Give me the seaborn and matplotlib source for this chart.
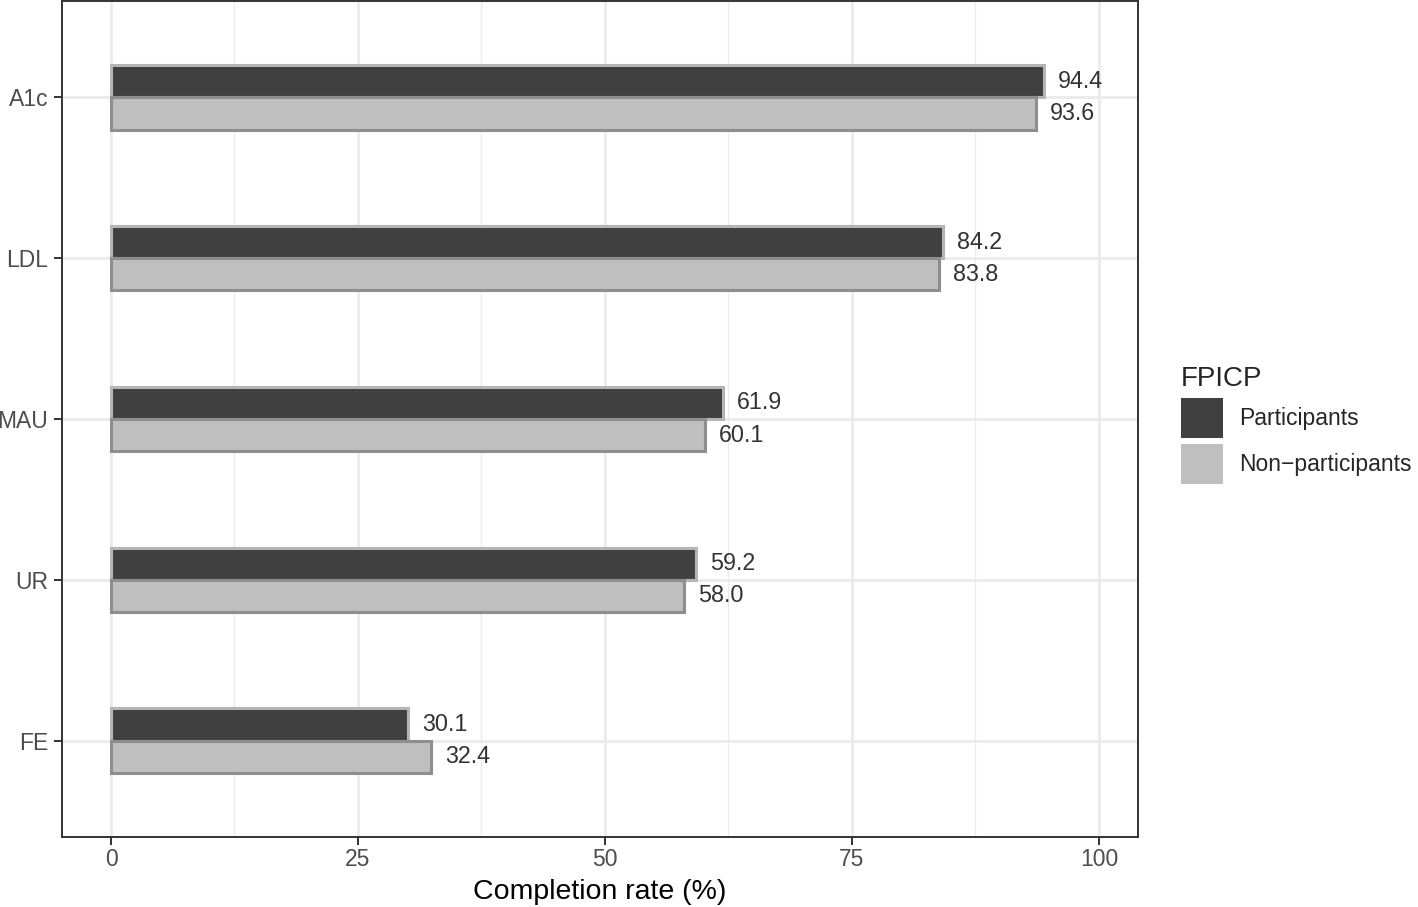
import matplotlib
matplotlib.use("Agg")
import matplotlib.pyplot as plt
from matplotlib.patches import Patch
import pandas as pd
import seaborn as sns

tests = ['A1c', 'LDL', 'MAU', 'UR', 'FE']
participants = [94.4, 84.2, 61.9, 59.2, 30.1]
non_participants = [93.6, 83.8, 60.1, 58.0, 32.4]
groups = ['Participants', 'Non\u2212participants']

fills = ['#404040', '#bfbfbf']
edges = ['#b5b5b5', '#8e8e8e']

df = pd.DataFrame({
    'Test': tests * 2,
    'Rate': participants + non_participants,
    'FPICP': [groups[0]] * len(tests) + [groups[1]] * len(tests),
})

sns.set_style('whitegrid')
plt.rcParams['font.family'] = ['Liberation Sans', 'DejaVu Sans']

fig = plt.figure(figsize=(14.18, 9.07), dpi=100)
ax = fig.add_axes([62 / 1418, 1 - 837 / 907, (1138 - 62) / 1418, (837 - 1) / 907])

sns.barplot(data=df, x='Rate', y='Test', hue='FPICP', order=tests, hue_order=groups,
            palette=fills, width=0.4, orient='h', legend=False, ax=ax, saturation=1)

# bar outlines and value labels
for cont, ec in zip(ax.containers, edges):
    for p in cont:
        p.set_edgecolor(ec)
        p.set_linewidth(2.2)
    ax.bar_label(cont, fmt='%.1f', padding=10, fontsize=16.8, color='#333333')

ax.set_xlim(-4.96, 103.95)
ax.set_ylim(4.6, -0.6)
ax.set_xticks([0, 25, 50, 75, 100])
ax.set_xticks([12.5, 37.5, 62.5, 87.5], minor=True)
ax.grid(True, which='major', color='#ebebeb', linewidth=2)
ax.grid(True, which='minor', axis='x', color='#ebebeb', linewidth=1)
ax.set_axisbelow(True)

for s in ax.spines.values():
    s.set_visible(True)
    s.set_color('#333333')
    s.set_linewidth(1.4)

ax.tick_params(axis='both', which='major', bottom=True, left=True, direction='out',
               length=6, width=1.4, color='#333333', labelsize=16.5, labelcolor='#4d4d4d')
ax.tick_params(axis='x', which='major', pad=2)
ax.tick_params(axis='y', which='major', pad=4)
ax.tick_params(axis='x', which='minor', bottom=False, length=0)
ax.set_xlabel('Completion rate (%)', fontsize=20.5, color='black', labelpad=6)
ax.set_ylabel('')

handles = [Patch(facecolor=f, edgecolor='none') for f in fills]
leg = fig.legend(handles, groups, title='FPICP', loc='center left',
                 bbox_to_anchor=(1172 / 1418, 1 - 425 / 907), frameon=False,
                 fontsize=16.5, title_fontsize=20, handlelength=1.83, handleheight=2.3,
                 labelspacing=0.25, handletextpad=0.7, borderaxespad=0)
leg._legend_box.align = 'left'

fig.savefig('out.png', dpi=100)
